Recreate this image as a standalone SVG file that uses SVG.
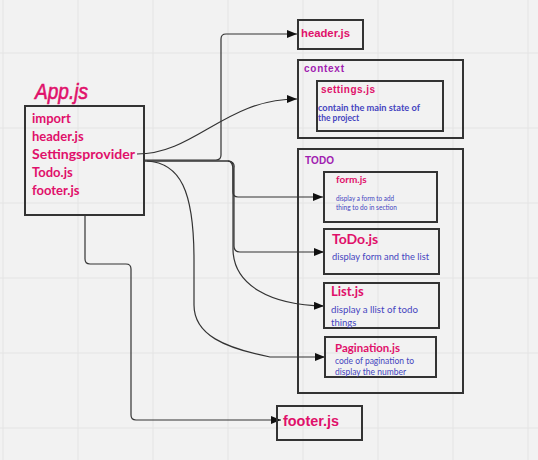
<svg xmlns="http://www.w3.org/2000/svg" width="538" height="460" viewBox="0 0 538 460">
<defs>
<marker id="arr" viewBox="0 0 10 8" refX="10" refY="4" markerWidth="10" markerHeight="8" markerUnits="userSpaceOnUse" orient="auto">
<path d="M0,0 L10,4 L0,8 Z" fill="#111"/>
</marker>
<style>
.box{fill:none;stroke:#333;stroke-width:2}
.grid{stroke:#e4e4e4;stroke-width:1}
.con{fill:none;stroke:#333;stroke-width:1.2}
.pk{fill:#e0106a;font-family:"Liberation Sans",Arial,sans-serif;font-weight:bold}
.pl{fill:#e0106a;font-family:Lato,"Open Sans",sans-serif;font-weight:bold}
.bl{fill:#4545c0;font-family:Lato,"Open Sans",sans-serif}
.pu{fill:#a020b0;font-family:"Liberation Sans",Arial,sans-serif;font-weight:bold}
</style>
</defs>
<rect width="538" height="460" fill="#f2f2f2"/>
<g id="grid">
<path class="grid" d="M3,0V460M78,0V460M153,0V460M228,0V460M303,0V460M378,0V460M453,0V460M528,0V460M0,53H538M0,128H538M0,203H538M0,278H538M0,353H538M0,428H538"/>
</g>
<g id="connectors">
<path class="con" d="M144,160 L216,160 Q221,160 221,155 L221,39 Q221,34 226,34 L297,34" marker-end="url(#arr)"/>
<path class="con" d="M137,154 C195,154 225,99 297,99" marker-end="url(#arr)"/>
<path class="con" d="M144,161 L228,161 Q233,161 233,166 L233,192 Q233,197 238,197 L323,197" marker-end="url(#arr)"/>
<path class="con" d="M144,161 L229,161 Q235,162 234,168 L234,246 Q234,252 240,252 L324,252" marker-end="url(#arr)"/>
<path class="con" d="M228,161 Q233,162 233,170 L233,250 C234,285 270,305 324,306" marker-end="url(#arr)"/>
<path class="con" d="M147,161 C180,163 194,190 194,260 L194,305 C194,335 225,348 270,357 L325,357" marker-end="url(#arr)"/>
<path class="con" d="M85,215 L85,259 Q85,264 90,264 L126,264 Q131,264 131,269 L131,415 Q131,420 136,420 L281,420" marker-end="url(#arr)"/>
</g>
<g id="app">
<text x="35" y="99" fill="#e0106a" stroke="#e0106a" stroke-width="0.6" font-family="'Liberation Sans',Arial,sans-serif" font-style="italic" font-size="22" textLength="53" lengthAdjust="spacingAndGlyphs">App.js</text>
<rect class="box" x="25" y="106" width="119" height="109"/>
<text class="pl" font-size="13" x="32" y="123">import</text>
<text class="pl" font-size="13" x="32" y="141">header.js</text>
<text class="pl" font-size="13" x="32" y="159" textLength="103" lengthAdjust="spacingAndGlyphs">Settingsprovider</text>
<text class="pl" font-size="13" x="32" y="177">Todo.js</text>
<text class="pl" font-size="13" x="32" y="195">footer.js</text>
</g>
<g id="header">
<rect class="box" x="298" y="20" width="65" height="29"/>
<text class="pk" font-size="11.5" x="301" y="37" textLength="49" lengthAdjust="spacingAndGlyphs">header.js</text>
</g>
<g id="context">
<rect class="box" x="298" y="60" width="165" height="78"/>
<text class="pu" font-size="10" x="304" y="72" textLength="40" lengthAdjust="spacing">context</text>
</g>
<g id="settings">
<rect class="box" x="317" y="81" width="126" height="50"/>
<text class="pk" font-size="10" x="321" y="93" textLength="54" lengthAdjust="spacing">settings.js</text>
<text class="bl" font-size="8.5" font-weight="bold" x="318" y="111" textLength="102" lengthAdjust="spacingAndGlyphs">contain the main state of</text>
<text class="bl" font-size="8.5" font-weight="bold" x="318" y="121">the project</text>
</g>
<g id="todo">
<rect class="box" x="298" y="149" width="165" height="244"/>
<text class="pu" font-size="10" x="305" y="164" font-weight="normal" textLength="29" lengthAdjust="spacing">TODO</text>
</g>
<g id="form">
<rect class="box" x="324" y="172" width="113" height="50"/>
<text class="pl" font-size="10" x="336" y="183">form.js</text>
<text class="bl" font-size="6.8" x="336" y="201" textLength="58" lengthAdjust="spacingAndGlyphs">display a form to add</text>
<text class="bl" font-size="6.8" x="336" y="209.5" textLength="61" lengthAdjust="spacingAndGlyphs">thing to do in  section</text>
</g>
<g id="todojs">
<rect class="box" x="324" y="229" width="115" height="45"/>
<text class="pl" font-size="14" x="332" y="244">ToDo.js</text>
<text class="bl" font-size="9.5" x="332" y="260" textLength="97" lengthAdjust="spacingAndGlyphs">display form and the list</text>
</g>
<g id="list">
<rect class="box" x="324" y="283" width="115" height="45"/>
<text class="pl" font-size="13" x="331" y="296">List.js</text>
<text class="bl" font-size="9.5" x="331" y="313" textLength="87" lengthAdjust="spacingAndGlyphs">display a llist of todo</text>
<text class="bl" font-size="9.5" x="331" y="326">things</text>
</g>
<g id="pagination">
<rect class="box" x="325" y="337" width="111" height="40"/>
<text class="pl" font-size="11" x="335" y="352" textLength="65" lengthAdjust="spacingAndGlyphs">Pagination.js</text>
<text class="bl" font-size="8.5" x="335" y="363.5" textLength="79" lengthAdjust="spacingAndGlyphs">code of pagination to</text>
<text class="bl" font-size="8.5" x="335" y="374.5">display the number</text>
</g>
<g id="footer">
<rect class="box" x="277" y="406" width="85" height="34"/>
<text class="pk" font-size="15" x="283" y="426" textLength="56" lengthAdjust="spacingAndGlyphs">footer.js</text>
</g>
</svg>
